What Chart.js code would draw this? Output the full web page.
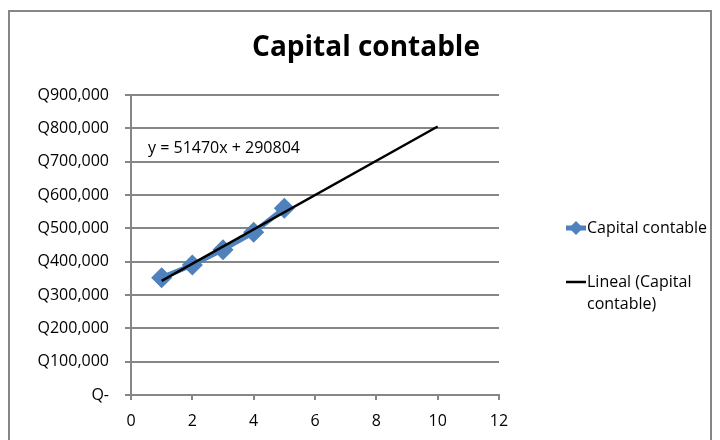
<!DOCTYPE html>
<html>
<head>
<meta charset="utf-8">
<script src="https://cdn.jsdelivr.net/npm/chart.js@4/dist/chart.umd.min.js"></script>
<style>
  body { margin: 0; background: #fff; }
  #wrap { width: 720px; height: 440px; }
</style>
</head>
<body>
<div id="wrap"><canvas id="myChart" width="720" height="440"></canvas></div>
<script>
// values
const periods = [1, 2, 3, 4, 5]
const capital = [352000, 390000, 436000, 488000, 560000]
const trendX = [1, 10]
const trendY = [342274, 805504]
const titleText = 'Capital contable'
const equationText = 'y = 51470x + 290804'
const seriesName = 'Capital contable'
const trendName = ['Lineal (Capital', 'contable)']

const gray = '#868686'
const blue = '#4F81BD'
const font = "'Open Sans', sans-serif"

const formatQ = (v) => v === 0 ? 'Q-' : 'Q' + v.toLocaleString('en-US')

const extras = {
  id: 'extras',
  beforeDraw(chart) {
    const ctx = chart.ctx
    ctx.save()
    ctx.fillStyle = '#fff'
    ctx.fillRect(0, 0, chart.width, chart.height)
    ctx.strokeStyle = gray
    ctx.lineWidth = 2
    ctx.strokeRect(9, 11, 702, 440)
    ctx.restore()
  },
  afterDraw(chart) {
    const ctx = chart.ctx
    ctx.save()
    ctx.fillStyle = '#000'
    ctx.textBaseline = 'middle'
    ctx.textAlign = 'center'
    ctx.font = `bold 28px ${font}`
    ctx.fillText(titleText, 366, 48)

    ctx.textAlign = 'left'
    ctx.font = `16px ${font}`
    ctx.fillText(equationText, 148, 148)

    // legend
    ctx.strokeStyle = blue
    ctx.lineWidth = 5
    ctx.beginPath()
    ctx.moveTo(566, 228)
    ctx.lineTo(586, 228)
    ctx.stroke()
    ctx.fillStyle = blue
    ctx.beginPath()
    ctx.moveTo(576, 221)
    ctx.lineTo(583, 228)
    ctx.lineTo(576, 235)
    ctx.lineTo(569, 228)
    ctx.closePath()
    ctx.fill()
    ctx.strokeStyle = '#000'
    ctx.lineWidth = 2.5
    ctx.beginPath()
    ctx.moveTo(566, 282)
    ctx.lineTo(586, 282)
    ctx.stroke()
    ctx.fillStyle = '#000'
    ctx.font = `16px ${font}`
    ctx.fillText(seriesName, 587, 228)
    ctx.fillText(trendName[0], 587, 282)
    ctx.fillText(trendName[1], 587, 304)
    ctx.restore()
  }
}

const data = {
  datasets: [
    {
      label: seriesName,
      data: periods.map((p, i) => ({ x: p, y: capital[i] })),
      showLine: true,
      borderColor: blue,
      backgroundColor: blue,
      borderWidth: 5,
      pointStyle: 'rectRot',
      pointRadius: 7,
      pointHoverRadius: 7,
      order: 2
    },
    {
      label: trendName.join(' '),
      data: trendX.map((x, i) => ({ x: x, y: trendY[i] })),
      showLine: true,
      borderColor: '#000',
      borderWidth: 2.5,
      pointRadius: 0,
      order: 1
    }
  ]
}

const config = {
  type: 'scatter',
  data,
  plugins: [extras],
  options: {
    responsive: false,
    animation: false,
    layout: { padding: { left: 0, right: 221, top: 95, bottom: 0 } },
    plugins: {
      legend: { display: false },
      tooltip: { enabled: false },
      title: { display: false }
    },
    scales: {
      x: {
        type: 'linear',
        min: 0,
        max: 12,
        ticks: { stepSize: 2, color: '#000', font: { family: font, size: 16 }, padding: 12 },
        grid: { drawOnChartArea: false, color: gray, lineWidth: 2, tickLength: 5 },
        border: { color: gray, width: 2 },
        afterFit: (s) => { s.height = 45 }
      },
      y: {
        min: 0,
        max: 900000,
        ticks: { stepSize: 100000, color: '#000', font: { family: font, size: 16 }, padding: 16, callback: formatQ },
        grid: { color: gray, lineWidth: 2, tickLength: 6 },
        border: { color: gray, width: 2 },
        afterFit: (s) => { s.width = 131 }
      }
    }
  }
}

new Chart(document.getElementById('myChart'), config)
</script>
</body>
</html>
